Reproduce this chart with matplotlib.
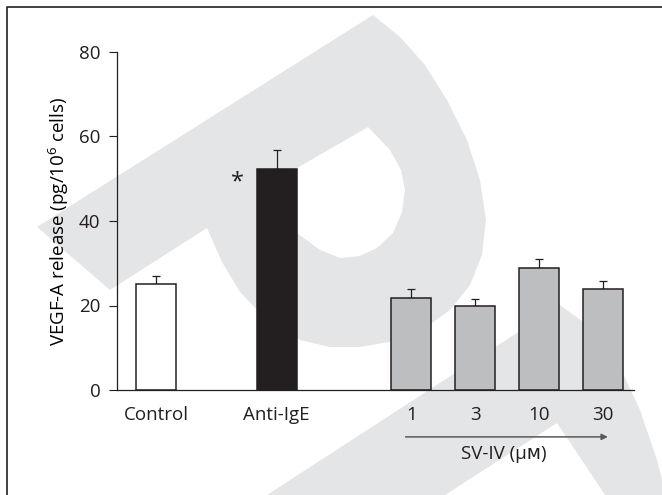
import numpy as np
import matplotlib
matplotlib.use("Agg")
import matplotlib.pyplot as plt
from matplotlib.patches import Polygon

# values
groups = ["Control", "Anti-IgE", "1", "3", "10", "30"]
release = [25.0, 52.2, 21.8, 19.9, 28.9, 24.0]
sem = [1.9, 4.7, 2.0, 1.6, 2.0, 1.9]
colors = ["white", "#231f20", "#bcbec0", "#bcbec0", "#bcbec0", "#bcbec0"]
xpos = [0, 1.89, 4, 5, 6, 7]

plt.rcParams["font.family"] = ["Open Sans", "DejaVu Sans"]
plt.rcParams["mathtext.fontset"] = "custom"
plt.rcParams["mathtext.rm"] = "Open Sans"
plt.rcParams["mathtext.it"] = "Open Sans"
plt.rcParams["text.color"] = "#231f20"
FS = 13.5

W, H = 662, 495
fig = plt.figure(figsize=(W / 100, H / 100), dpi=100)

# background: publisher watermark + frame, in pixel coords
bg = fig.add_axes([0, 0, 1, 1], zorder=0)
bg.set_xlim(0, W)
bg.set_ylim(H, 0)
bg.axis("off")
wm = "#e4e5e6"
bowl = [(37, 227), (373, 15), (400, 37), (425, 65), (447, 100), (467, 140), (480, 180),
        (486, 220), (482, 255), (470, 285), (450, 310), (425, 328), (395, 341), (360, 347),
        (330, 347), (300, 340), (265, 318), (240, 292), (222, 262), (207, 228), (110, 290)]
hole = [(368, 127), (297, 168), (262, 188), (266, 208), (280, 222), (297, 233), (320, 250),
        (340, 258), (360, 256), (377, 248), (393, 233), (402, 212), (405, 190), (401, 170),
        (390, 150)]
leg = [(267, 495), (560, 305), (590, 327), (620, 367), (640, 410), (657, 460), (666, 495),
       (605, 495), (557, 423), (445, 495)]
bg.add_patch(Polygon(bowl, closed=True, fc=wm, ec="none"))
bg.add_patch(Polygon(hole, closed=True, fc="white", ec="none"))
bg.add_patch(Polygon(leg, closed=True, fc=wm, ec="none"))
bg.plot([7, 7, W], [H, 7, 7], color="#231f20", lw=1.2)

ax = fig.add_axes([117 / W, 1 - 390 / H, (634 - 117) / W, (390 - 52) / H], zorder=1)
ax.patch.set_visible(False)
ax.bar(xpos, release, width=0.625, color=colors, edgecolor="#231f20", linewidth=1.1, zorder=2)
ax.errorbar(xpos, release, yerr=[np.zeros(len(sem)), sem], fmt="none", ecolor="#231f20",
            elinewidth=0.9, capsize=2.9, capthick=0.9, zorder=1)

ax.set_xlim(-0.615, 7.49)
ax.set_ylim(0, 80)
for s in ("top", "right"):
    ax.spines[s].set_visible(False)
for s in ("left", "bottom"):
    ax.spines[s].set_linewidth(0.9)
    ax.spines[s].set_color("#231f20")

ax.set_yticks([0, 20, 40, 60, 80])
ax.tick_params(axis="y", length=5.8, width=0.8, pad=6, labelsize=FS, colors="#231f20")
ax.set_xticks(xpos)
ax.set_xticklabels(groups)
ax.tick_params(axis="x", length=0, pad=11.5, labelsize=FS, colors="#231f20")

ax.set_ylabel("VEGF-A release (pg/10$^6$ cells)", fontsize=FS)
ax.yaxis.set_label_coords(-0.089, 0.5)

ax.text(1.28, 49.2, "*", ha="center", va="center", fontsize=17)

ax.annotate("", xy=(7.08, -11.1), xytext=(3.91, -11.1),
            arrowprops=dict(arrowstyle="-|>", color="#58595b", lw=1.1, mutation_scale=9,
                            shrinkA=0, shrinkB=0),
            annotation_clip=False)
ax.text(5.45, -16.3, "SV-IV (\u00b5\u1d0d)", ha="center", va="baseline", fontsize=FS,
        clip_on=False)

fig.savefig("out.png", dpi=100)
